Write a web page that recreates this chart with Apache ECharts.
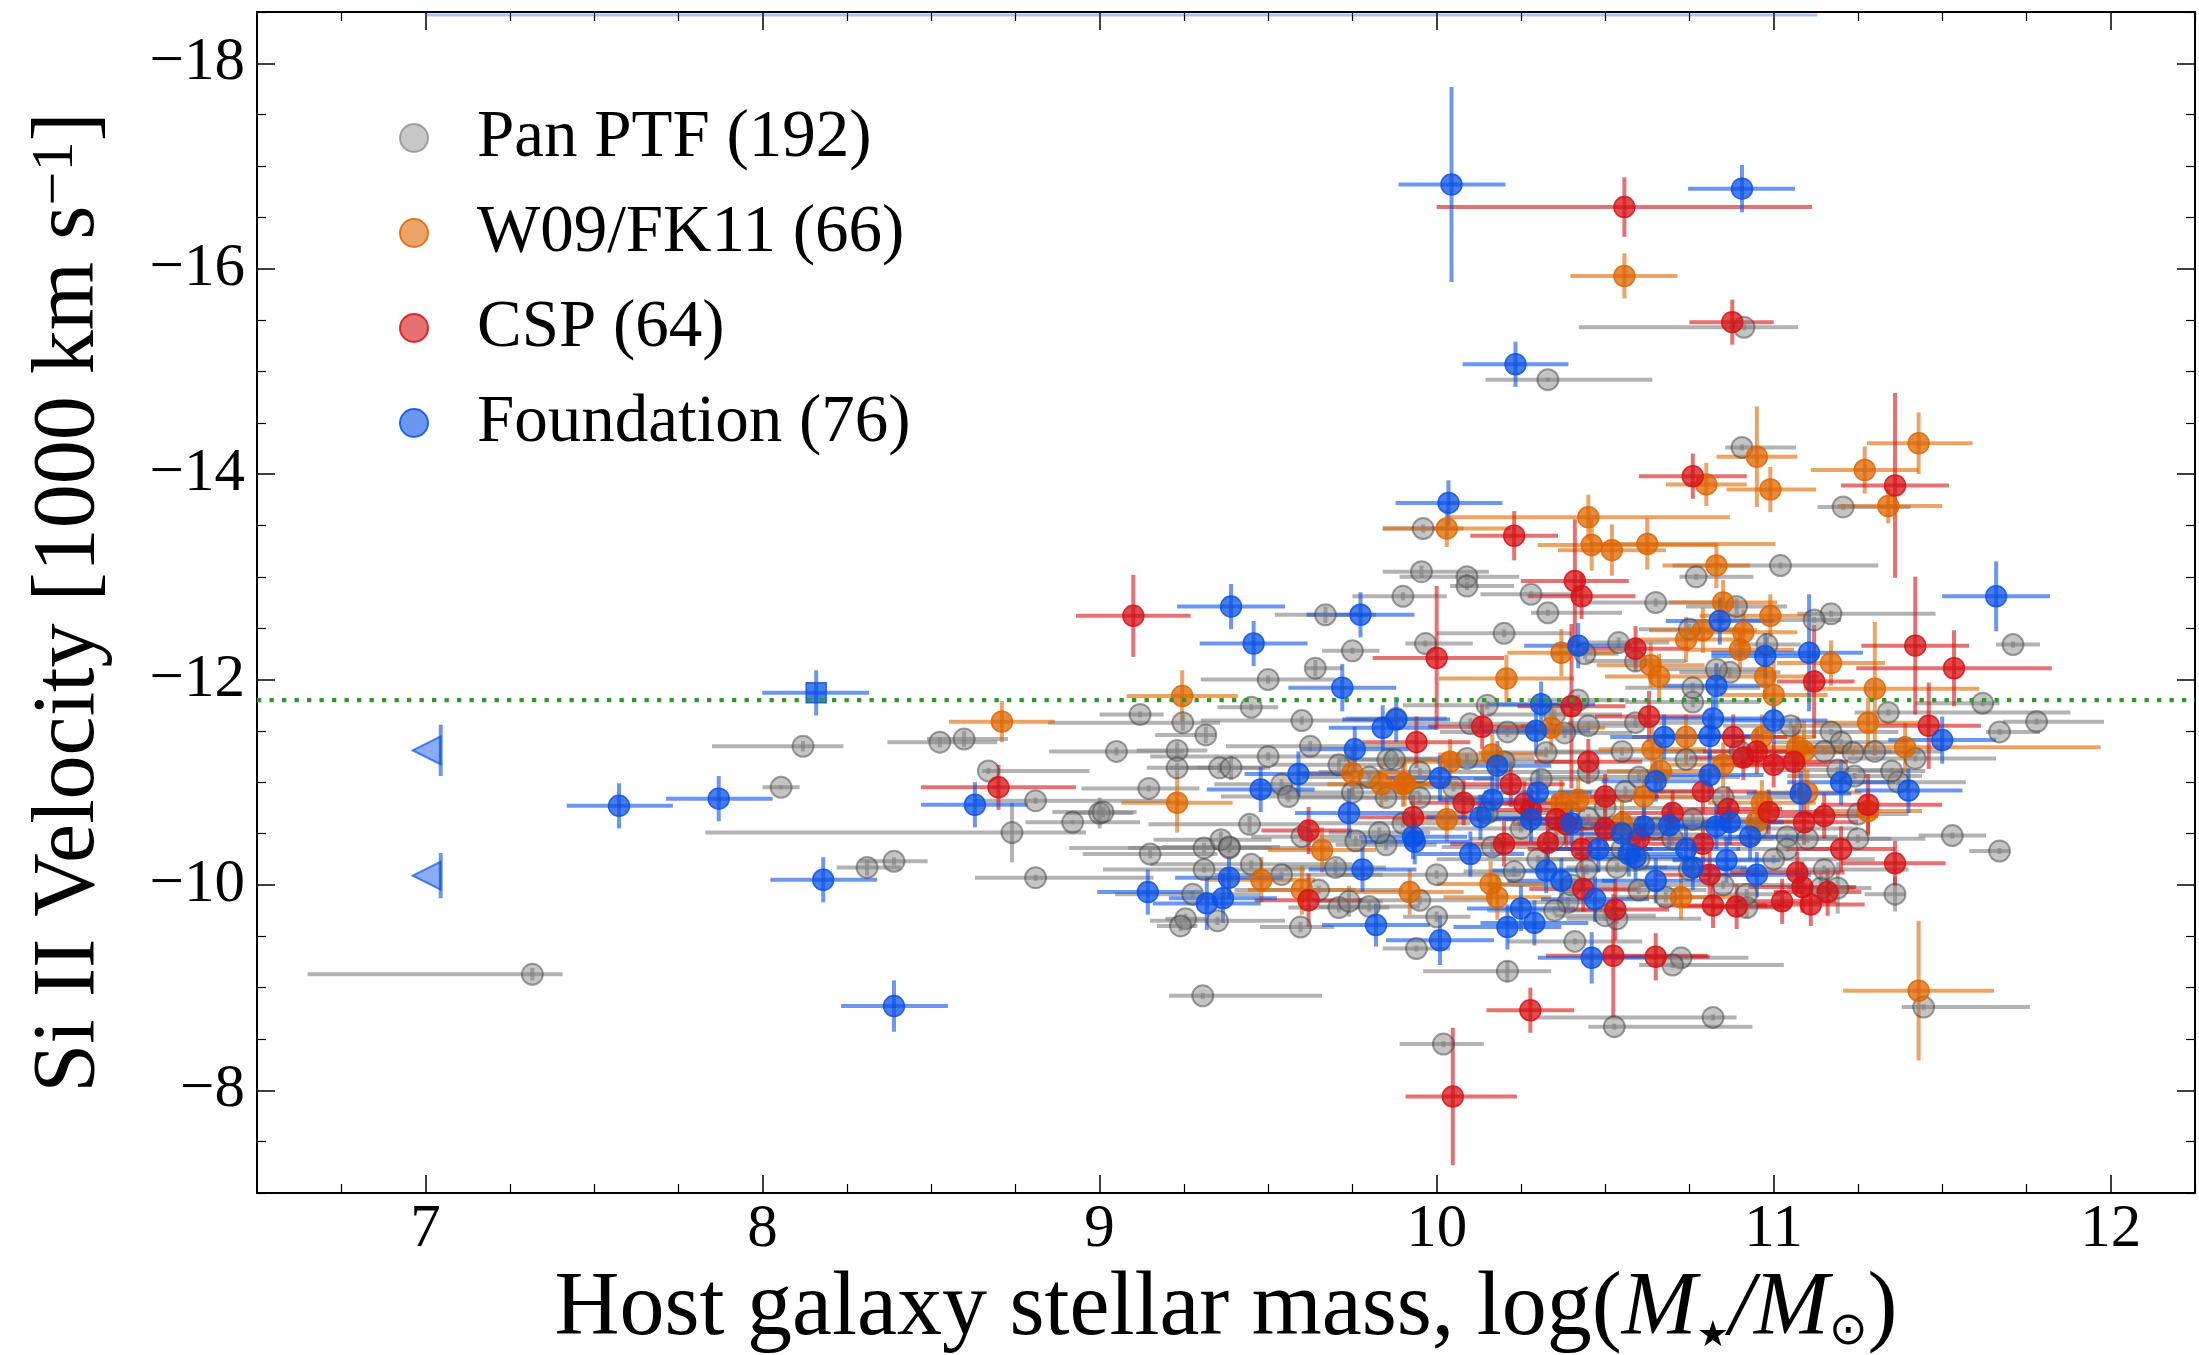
<!DOCTYPE html>
<html>
<head>
<meta charset="utf-8">
<script src="https://cdn.jsdelivr.net/npm/echarts@6/dist/echarts.min.js"></script>
<style>html,body{margin:0;padding:0;background:#fff;overflow:hidden}#c{width:2199px;height:1355px}</style>
</head>
<body>
<div id="c"></div>
<script>
// ---- data: [logMass, velocity(1000 km/s), xErrMinus, xErrPlus, yErr] ----
const panPTF = [
[8.12,-11.35,0.27,0.12,0.05],[8.526,-11.39,0.156,0.17,0.05],[8.598,-11.42,0.11,0.13,0.08],[8.67,-11.11,0.02,0.3,0.03],
[8.81,-10.82,0.18,0.4,0.03],[8.055,-10.95,0.055,0.055,0.02],[8.92,-10.61,0.14,0.2,0.02],[9.0,-10.70,0.1,0.1,0.15],
[8.74,-10.51,0.91,0.22,0.29],[8.31,-10.17,0.09,0.1,0.08],[8.39,-10.23,0.1,0.1,0.04],[8.81,-10.07,0.18,0.35,0.03],
[7.317,-9.13,0.667,0.09,0.06],
[10.33,-14.92,0.185,0.31,0.02],[10.912,-15.43,0.49,0.16,0.03],[10.906,-14.26,0.05,0.16,0.03],[9.96,-13.47,0.12,0.12,0.04],
[11.206,-13.68,0.076,0.2,0.03],[9.955,-13.05,0.115,0.2,0.06],[10.09,-13.0,0.2,0.155,0.03],[10.09,-12.91,0.05,0.14,0.04],
[9.90,-12.81,0.15,0.13,0.04],[10.28,-12.83,0.15,0.15,0.03],[10.77,-13.0,0.05,0.17,0.03],[11.02,-13.11,0.32,0.29,0.03],
[11.71,-12.34,0.05,0.08,0.03],[11.62,-11.77,0.2,0.05,0.03],[11.34,-11.68,0.1,0.54,0.03],[11.78,-11.59,0.1,0.2,0.03],
[11.67,-11.49,0.04,0.12,0.03],[11.42,-11.23,0.2,0.24,0.03],[11.37,-11.0,0.2,0.2,0.03],[11.35,-11.11,0.1,0.1,0.03],
[11.53,-10.48,0.1,0.1,0.03],[11.67,-10.33,0.09,0.03,0.03],[11.17,-12.64,0.1,0.31,0.03],[11.12,-12.58,0.3,0.08,0.03],
[10.89,-12.71,0.15,0.15,0.08],[10.98,-12.34,0.1,0.1,0.08],[10.87,-12.07,0.15,0.15,0.05],[10.83,-12.10,0.15,0.15,0.05],
[11.17,-11.49,0.2,0.2,0.03],[11.20,-11.39,0.2,0.2,0.03],[11.235,-11.29,0.2,0.2,0.03],[11.15,-11.30,0.2,0.2,0.03],
[11.19,-11.12,0.2,0.2,0.03],[11.24,-11.06,0.2,0.2,0.03],[11.25,-10.69,0.15,0.15,0.03],[11.04,-10.47,0.15,0.15,0.03],
[11.04,-10.35,0.15,0.15,0.03],
[11.14,-9.97,0.1,0.1,0.15],[11.19,-9.97,0.1,0.1,0.25],[11.36,-9.91,0.09,0.03,0.17],[10.92,-9.78,0.1,0.1,0.1],
[10.92,-9.91,0.1,0.1,0.05],[11.445,-8.81,0.065,0.315,0.03],[10.82,-8.71,0.52,0.07,0.03],[10.527,-8.62,0.077,0.41,0.03],
[10.02,-8.45,0.13,0.12,0.03],[10.725,-9.29,0.1,0.2,0.03],[10.70,-9.22,0.1,0.33,0.03],[10.41,-9.45,0.2,0.2,0.03],
[10.21,-9.16,0.25,0.13,0.1],[9.94,-9.38,0.1,0.1,0.03],[10.0,-9.69,0.1,0.1,0.05],[10.23,-10.13,0.15,0.15,0.05],
[10.445,-10.15,0.15,0.15,0.05],[10.39,-9.83,0.15,0.15,0.05],[10.535,-9.67,0.15,0.25,0.05],[10.50,-9.70,0.15,0.15,0.05],
[10.68,-9.88,0.15,0.15,0.05],[10.165,-10.37,0.15,0.15,0.05],[10.535,-10.17,0.15,0.15,0.05],
[9.306,-8.92,0.1,0.354,0.03],[9.276,-9.91,0.23,0.2,0.03],[9.255,-9.67,0.06,0.06,0.05],[9.24,-9.60,0.07,0.05,0.05],
[9.31,-10.15,0.3,0.3,0.03],[9.31,-10.36,0.4,0.2,0.05],[9.385,-10.36,0.3,0.3,0.05],[9.54,-10.10,0.2,0.3,0.03],
[9.596,-9.59,0.12,0.1,0.05],[9.71,-9.78,0.15,0.15,0.05],[9.74,-9.84,0.1,0.1,0.15],[9.80,-9.79,0.15,0.15,0.05],
[9.70,-10.17,0.15,0.15,0.08],[9.85,-10.39,0.15,0.15,0.05],[9.76,-10.43,0.15,0.15,0.05],
[9.67,-12.63,0.15,0.15,0.08],[9.75,-12.28,0.09,0.08,0.03],[9.64,-12.11,0.03,0.08,0.08],[9.45,-11.73,0.1,0.08,0.03],
[9.12,-11.66,0.12,0.07,0.03],[9.247,-11.58,0.4,0.11,0.08],[9.315,-11.46,0.15,0.03,0.08],[9.23,-11.31,0.12,0.09,0.08],
[9.23,-11.14,0.09,0.11,0.05],[9.356,-11.14,0.15,0.15,0.05],[9.39,-11.14,0.1,0.1,0.12],[9.146,-10.94,0.2,0.15,0.03],
[9.01,-10.71,0.15,0.1,0.05],[9.445,-10.59,0.3,0.15,0.08],[9.36,-10.44,0.2,0.15,0.08],[9.385,-10.37,0.2,0.15,0.05],
[9.625,-11.35,0.25,0.29,0.05],[9.54,-10.98,0.2,0.2,0.05],[9.56,-10.86,0.2,0.2,0.05],[9.71,-11.17,0.2,0.2,0.05],
[9.80,-11.05,0.2,0.2,0.05],[9.855,-11.22,0.15,0.15,0.05],[9.875,-11.22,0.15,0.15,0.05],[9.88,-11.62,0.15,0.15,0.05],
[9.60,-10.47,0.15,0.15,0.05],[9.83,-10.51,0.15,0.15,0.05],
[10.33,-12.65,0.05,0.22,0.03],[9.967,-12.35,0.06,0.14,0.03],[10.44,-12.25,0.1,0.1,0.05],[10.42,-11.80,0.15,0.15,0.05],
[10.35,-11.66,0.2,0.2,0.05],[10.38,-11.48,0.2,0.2,0.05],[10.325,-11.29,0.2,0.2,0.05],[10.10,-11.57,0.2,0.2,0.05],
[10.21,-11.49,0.2,0.2,0.05],[10.09,-11.23,0.2,0.2,0.05],[9.95,-10.85,0.2,0.2,0.05],[10.31,-11.03,0.2,0.2,0.05],
[10.56,-10.91,0.2,0.2,0.05],[10.74,-11.22,0.2,0.2,0.05],[10.59,-11.58,0.2,0.2,0.05],[10.76,-11.78,0.2,0.2,0.05],
[10.76,-11.92,0.2,0.2,0.05],[10.54,-12.36,0.15,0.15,0.05],[10.59,-12.18,0.15,0.15,0.05],[10.75,-12.49,0.15,0.15,0.05],
[10.76,-10.64,0.2,0.2,0.05],[10.58,-10.49,0.2,0.2,0.05],
[10.05,-10.95,0.3,0.2,0.04],[10.15,-10.7,0.25,0.25,0.04],[10.25,-10.55,0.3,0.2,0.04],[10.35,-10.45,0.25,0.25,0.04],
[10.45,-10.65,0.3,0.25,0.04],[10.55,-10.35,0.25,0.25,0.04],[10.65,-10.55,0.25,0.25,0.04],[10.5,-10.75,0.2,0.2,0.04],
[10.6,-10.25,0.3,0.2,0.04],[10.7,-10.45,0.2,0.3,0.04],[10.85,-10.85,0.25,0.25,0.04],[10.95,-10.55,0.3,0.3,0.04],
[11.0,-10.25,0.3,0.3,0.04],[11.1,-10.45,0.25,0.25,0.04],[11.15,-10.15,0.25,0.25,0.04],[10.3,-10.25,0.3,0.3,0.04],
[10.4,-10.0,0.25,0.25,0.04],[10.6,-9.95,0.2,0.2,0.04],[10.85,-10.0,0.25,0.25,0.04],[10.0,-10.1,0.3,0.25,0.04],
[9.9,-10.6,0.3,0.2,0.04],[9.85,-10.85,0.3,0.3,0.04],[9.95,-11.1,0.3,0.25,0.04],[10.2,-11.2,0.2,0.2,0.04],
[10.45,-11.1,0.25,0.25,0.04],[10.55,-11.3,0.25,0.25,0.04],[10.6,-11.05,0.3,0.3,0.04],[10.9,-11.3,0.25,0.2,0.04],
[11.05,-11.55,0.2,0.2,0.04],[10.45,-11.55,0.2,0.2,0.04],[10.15,-11.75,0.25,0.3,0.04],[9.6,-11.6,0.3,0.3,0.04],
[9.5,-11.25,0.35,0.25,0.04],[9.45,-10.2,0.3,0.3,0.04],[9.65,-9.95,0.25,0.25,0.04],[9.15,-10.3,0.2,0.2,0.04],
[9.05,-11.3,0.2,0.2,0.04],[9.5,-12.0,0.2,0.2,0.04],[10.65,-12.75,0.2,0.2,0.04],[10.2,-12.45,0.2,0.2,0.04],
[10.75,-10.15,0.25,0.2,0.04],[10.35,-9.75,0.2,0.2,0.04],[9.75,-10.9,0.25,0.2,0.04],[11.25,-10.45,0.2,0.2,0.04],
[11.3,-11.3,0.2,0.2,0.04],[9.35,-9.65,0.2,0.2,0.04],[9.95,-9.85,0.2,0.2,0.04]
];
const w09fk11 = [
[10.557,-15.93,0.16,0.157,0.22],[8.71,-11.59,0.157,0.157,0.2],[10.95,-14.17,0.12,0.12,0.49],[10.80,-13.90,0.12,0.12,0.21],
[10.99,-13.85,0.13,0.136,0.22],[11.27,-14.04,0.16,0.16,0.23],[11.43,-14.30,0.153,0.16,0.3],[11.34,-13.69,0.15,0.16,0.17],
[10.03,-13.47,0.19,0.19,0.18],[10.45,-13.58,0.41,0.42,0.22],[10.46,-13.31,0.16,0.37,0.25],[10.52,-13.26,0.16,0.16,0.25],
[10.625,-13.32,0.17,0.38,0.25],[10.83,-13.11,0.16,0.1,0.22],[10.99,-12.62,0.21,0.12,0.21],[10.79,-12.48,0.16,0.16,0.22],
[10.91,-12.46,0.16,0.16,0.22],[10.90,-12.29,0.16,0.16,0.22],[11.17,-12.16,0.16,0.16,0.22],[11.30,-11.91,0.21,0.31,0.65],
[10.975,-12.03,0.16,0.16,0.22],[11.0,-11.85,0.16,0.16,0.33],[11.28,-11.58,0.16,0.15,0.24],[11.39,-11.34,0.3,0.58,0.24],
[10.965,-11.44,0.16,0.16,0.22],[11.07,-11.34,0.16,0.16,0.3],[11.09,-11.30,0.16,0.16,0.3],[10.85,-11.17,0.16,0.16,0.22],
[11.28,-10.72,0.16,0.16,0.22],[10.965,-10.80,0.16,0.16,0.22],[10.95,-10.62,0.16,0.16,0.22],[11.43,-8.97,0.224,0.224,0.68],
[9.92,-9.93,0.16,0.16,0.22],[10.16,-10.01,0.16,0.16,0.22],[10.18,-9.88,0.16,0.16,0.22],[10.725,-9.88,0.16,0.16,0.22],
[9.48,-10.05,0.16,0.16,0.22],[9.60,-9.95,0.16,0.16,0.24],[9.66,-10.34,0.16,0.16,0.22],[9.245,-11.84,0.165,0.165,0.25],
[9.23,-10.80,0.165,0.165,0.29],[9.75,-11.09,0.16,0.16,0.22],[9.836,-10.98,0.16,0.16,0.22],[9.90,-10.98,0.16,0.16,0.22],
[10.207,-12.01,0.2,0.2,0.23],[10.37,-12.26,0.16,0.16,0.23],[10.34,-11.53,0.16,0.16,0.22],[10.04,-11.20,0.16,0.16,0.22],
[10.165,-11.27,0.16,0.16,0.22],[9.905,-10.99,0.16,0.16,0.22],[10.37,-10.80,0.16,0.16,0.22],[10.42,-10.83,0.16,0.16,0.22],
[10.615,-10.86,0.16,0.16,0.22],[10.665,-11.11,0.16,0.16,0.22],[10.64,-11.32,0.16,0.16,0.22],[10.74,-11.44,0.16,0.16,0.22],
[10.635,-12.14,0.16,0.16,0.22],[10.66,-12.03,0.16,0.16,0.22],[10.74,-12.39,0.16,0.16,0.22],[10.03,-10.64,0.16,0.16,0.22],
[10.55,-10.6,0.16,0.16,0.22],[11.1,-10.9,0.16,0.16,0.22],[10.85,-12.75,0.16,0.16,0.22]
];
const csp = [
[10.557,-16.6,0.557,0.557,0.29],[10.877,-15.48,0.127,0.123,0.22],[10.76,-13.98,0.16,0.16,0.22],[11.36,-13.89,0.16,0.16,0.9],
[10.23,-13.40,0.13,0.13,0.24],[10.41,-12.96,0.16,0.16,0.6],[10.43,-12.81,0.16,0.16,0.22],[11.42,-12.33,0.16,0.16,0.67],
[11.535,-12.11,0.29,0.29,0.37],[11.12,-11.98,0.11,0.12,0.55],[11.46,-11.55,0.15,0.155,0.42],[10.88,-11.44,0.16,0.16,0.22],
[10.95,-11.30,0.16,0.16,0.22],[10.91,-11.24,0.16,0.16,0.22],[11.0,-11.17,0.16,0.16,0.22],[11.06,-11.20,0.16,0.16,0.35],
[10.79,-10.91,0.16,0.16,0.22],[11.28,-10.78,0.14,0.22,0.3],[10.865,-10.74,0.16,0.16,0.22],[10.985,-10.71,0.16,0.16,0.22],
[11.09,-10.61,0.16,0.16,0.22],[11.15,-10.67,0.16,0.16,0.22],[10.79,-10.40,0.16,0.16,0.22],[11.36,-10.21,0.16,0.15,0.22],
[11.07,-10.12,0.2,0.14,0.2],[11.085,-9.98,0.16,0.16,0.25],[11.16,-9.93,0.16,0.1,0.23],[11.11,-9.81,0.16,0.16,0.21],
[11.025,-9.84,0.16,0.16,0.22],[10.89,-9.79,0.16,0.16,0.22],[10.82,-9.80,0.16,0.16,0.22],[10.81,-10.10,0.16,0.16,0.22],
[10.048,-7.94,0.14,0.19,0.67],[10.278,-8.78,0.13,0.13,0.22],[10.524,-9.31,0.2,0.28,0.6],[10.65,-9.30,0.16,0.16,0.23],
[10.435,-9.96,0.16,0.16,0.22],[10.53,-9.76,0.16,0.16,0.3],[10.43,-10.35,0.16,0.16,0.22],[10.33,-10.41,0.16,0.16,0.22],
[10.20,-10.40,0.16,0.16,0.22],[9.62,-9.85,0.16,0.16,0.26],[9.10,-12.62,0.17,0.17,0.4],[10.0,-12.21,0.19,0.2,0.7],
[9.94,-11.39,0.16,0.16,0.25],[9.93,-10.66,0.16,0.16,0.22],[9.62,-10.53,0.14,0.13,0.23],[8.70,-10.95,0.23,0.23,0.22],
[10.40,-11.74,0.16,0.16,0.8],[10.135,-11.54,0.16,0.16,0.22],[10.08,-10.80,0.16,0.16,0.22],[10.22,-10.98,0.16,0.16,0.22],
[10.50,-10.86,0.16,0.16,0.22],[10.63,-11.64,0.16,0.16,0.25],[10.59,-12.30,0.16,0.16,0.22],[10.26,-10.79,0.16,0.16,0.22],
[10.28,-10.73,0.16,0.16,0.22],[10.355,-10.64,0.16,0.16,0.22],[10.385,-10.59,0.16,0.16,0.22],[10.6,-10.45,0.16,0.16,0.22],
[10.7,-10.7,0.16,0.16,0.22],[10.5,-10.55,0.16,0.16,0.22],[11.2,-10.35,0.16,0.16,0.22],[10.45,-11.2,0.16,0.16,0.22]
];
const foundation = [
[10.044,-16.82,0.157,0.16,0.95],[10.906,-16.78,0.16,0.157,0.23],[10.234,-15.07,0.157,0.157,0.22],[10.035,-13.72,0.157,0.16,0.22],
[7.574,-10.77,0.155,0.16,0.22],[7.87,-10.84,0.156,0.16,0.22],[8.63,-10.78,0.16,0.157,0.22],[8.18,-10.05,0.157,0.16,0.22],
[8.39,-8.82,0.157,0.16,0.25],[11.66,-12.81,0.16,0.16,0.34],[11.50,-11.41,0.16,0.16,0.23],[11.40,-10.92,0.16,0.16,0.22],
[10.84,-12.57,0.16,0.16,0.23],[10.975,-12.23,0.16,0.16,0.22],[11.105,-12.26,0.29,0.16,0.57],[10.83,-11.94,0.16,0.16,0.22],
[10.82,-11.62,0.16,0.16,0.22],[10.81,-11.45,0.16,0.16,0.22],[10.81,-11.07,0.16,0.16,0.22],[11.08,-10.89,0.16,0.15,0.22],
[10.93,-10.47,0.16,0.16,0.22],[10.87,-10.61,0.16,0.16,0.22],[10.83,-10.57,0.16,0.16,0.22],[10.86,-10.24,0.16,0.16,0.22],
[10.46,-9.29,0.16,0.16,0.25],[10.01,-9.46,0.16,0.16,0.24],[10.21,-9.59,0.16,0.16,0.22],[10.29,-9.63,0.16,0.16,0.22],
[10.25,-9.77,0.16,0.16,0.22],[10.325,-10.14,0.16,0.16,0.22],[10.37,-10.04,0.16,0.16,0.22],[10.47,-9.86,0.16,0.16,0.22],
[10.65,-10.04,0.16,0.16,0.22],[10.76,-10.17,0.16,0.16,0.22],[10.74,-10.35,0.16,0.16,0.22],[10.48,-10.35,0.16,0.16,0.22],
[9.935,-10.42,0.16,0.16,0.22],[10.57,-10.30,0.16,0.16,0.22],[10.59,-10.27,0.16,0.16,0.22],[9.143,-9.93,0.15,0.16,0.22],
[9.318,-9.82,0.16,0.16,0.26],[9.366,-9.87,0.16,0.16,0.24],[9.384,-10.07,0.16,0.16,0.2],[9.82,-9.61,0.16,0.16,0.21],
[9.78,-10.15,0.16,0.16,0.22],[9.39,-12.71,0.16,0.16,0.22],[9.457,-12.35,0.16,0.16,0.22],[9.774,-12.63,0.16,0.16,0.22],
[9.72,-11.92,0.16,0.16,0.23],[9.757,-11.32,0.16,0.16,0.22],[9.84,-11.53,0.16,0.16,0.22],[9.88,-11.61,0.16,0.16,0.22],
[9.59,-11.08,0.16,0.16,0.22],[9.478,-10.93,0.16,0.16,0.22],[9.74,-10.70,0.16,0.16,0.24],[9.93,-10.47,0.16,0.16,0.22],
[10.42,-12.33,0.16,0.16,0.22],[10.31,-11.76,0.16,0.16,0.22],[10.295,-11.50,0.16,0.16,0.22],[10.18,-11.16,0.16,0.16,0.24],
[10.01,-11.04,0.16,0.16,0.22],[10.165,-10.83,0.16,0.16,0.22],[10.65,-11.01,0.16,0.16,0.2],[10.675,-11.44,0.16,0.16,0.22],
[10.13,-10.66,0.16,0.16,0.22],[10.28,-10.64,0.16,0.16,0.22],[10.615,-10.57,0.16,0.16,0.22],[10.69,-10.58,0.16,0.16,0.22],
[10.55,-10.5,0.16,0.16,0.22],[10.4,-10.6,0.16,0.16,0.22],[10.95,-10.1,0.16,0.16,0.22],[11.0,-11.6,0.16,0.16,0.22],
[10.3,-10.9,0.16,0.16,0.22],[11.2,-11.0,0.16,0.16,0.22],[10.1,-10.3,0.16,0.16,0.22]
];
// Foundation special symbols
const foundationSquare = [[8.159,-11.87,0.16,0.157,0.22]];
const foundationUpperLimits = [[7.045,-11.31,0,0,0.25],[7.045,-10.09,0,0,0.22]];
// faint line along the top edge of the panel
const topEdgeLine = [[7.0, -18.47], [11.13, -18.47]];
const thresholdVelocity = -11.8;
const xRange = [6.5, 12.25];
const yRange = [-18.5, -7];
const xMajorTicks = [7, 8, 9, 10, 11, 12];
const xMinorTicks = [6.75,7.25,7.5,7.75,8.25,8.5,8.75,9.25,9.5,9.75,10.25,10.5,10.75,11.25,11.5,11.75,12.25];
const yMajorTicks = [-18, -16, -14, -12, -10, -8];
const yMinorTicks = [-18.5,-17.5,-17,-16.5,-15.5,-15,-14.5,-13.5,-13,-12.5,-11.5,-11,-10.5,-9.5,-9,-8.5,-7.5,-7];
const seriesNames = ['Pan PTF (192)', 'W09/FK11 (66)', 'CSP (64)', 'Foundation (76)'];

const FONT = 'Liberation Serif';
const COLORS = {
  gray: [128,128,128], orange: [222,102,0], red: [214,18,22], blue: [10,82,230]
};
function rgba(c, a) { return 'rgba(' + c[0] + ',' + c[1] + ',' + c[2] + ',' + a + ')'; }

function barRender(col) {
  const st = { stroke: rgba(col, 0.6), lineWidth: 4, fill: null };
  return function (params, api) {
    const x = api.value(0), y = api.value(1);
    const xm = api.value(2), xp = api.value(3), ye = api.value(4);
    const ch = [];
    if (xm > 0 || xp > 0) {
      const a = api.coord([x - xm, y]), b = api.coord([x + xp, y]);
      ch.push({ type: 'line', shape: { x1: a[0], y1: a[1], x2: b[0], y2: b[1] }, style: st });
    }
    if (ye > 0) {
      const a = api.coord([x, y - ye]), b = api.coord([x, y + ye]);
      ch.push({ type: 'line', shape: { x1: a[0], y1: a[1], x2: b[0], y2: b[1] }, style: st });
    }
    return { type: 'group', children: ch };
  };
}
function barSeries(name, arr, col) {
  return { type: 'custom', name: name, data: arr, renderItem: barRender(col), clip: true,
    encode: { x: 0, y: 1 }, silent: true, animation: false };
}
function markerSeries(name, arr, col, extra) {
  return Object.assign({ type: 'scatter', name: name, data: arr.map(d => [d[0], d[1]]),
    symbol: 'circle', symbolSize: 21, clip: true, animation: false, silent: true,
    itemStyle: { color: rgba(col, 0.75), borderColor: rgba(col, 0.85), borderWidth: 1.5, opacity: 1 } }, extra || {});
}

const axisTextStyle = { fontFamily: FONT, fontSize: 61, color: '#000' };
function minus(v) { return v < 0 ? '\u2212' + Math.abs(v) : String(v); }

const chart = echarts.init(document.getElementById('c'), null, { renderer: 'canvas' });
const option = {
  backgroundColor: '#fff',
  animation: false,
  grid: { left: 257, right: 4, top: 12, bottom: 162, containLabel: false, outerBoundsMode: 'none' },
  legend: {
    orient: 'vertical', left: 394, top: 98, itemWidth: 28, itemHeight: 28, itemGap: 25,
    selectedMode: false, icon: 'circle',
    textStyle: { fontFamily: FONT, fontSize: 67, color: '#000', lineHeight: 70, padding: [0, 0, 0, 44] },
    data: [
      { name: seriesNames[0], itemStyle: { color: rgba(COLORS.gray, 0.55), borderColor: rgba(COLORS.gray, 0.85), borderWidth: 2 } },
      { name: seriesNames[1], itemStyle: { color: rgba(COLORS.orange, 0.6), borderColor: rgba(COLORS.orange, 0.85), borderWidth: 2 } },
      { name: seriesNames[2], itemStyle: { color: rgba(COLORS.red, 0.6), borderColor: rgba(COLORS.red, 0.85), borderWidth: 2 } },
      { name: seriesNames[3], itemStyle: { color: rgba(COLORS.blue, 0.6), borderColor: rgba(COLORS.blue, 0.85), borderWidth: 2 } }
    ]
  },
  xAxis: [
    { type: 'value', min: xRange[0], max: xRange[1], position: 'bottom',
      axisLine: { show: true, onZero: false, lineStyle: { color: '#000', width: 2 } },
      axisTick: { show: true, inside: true, length: 18, customValues: xMajorTicks, lineStyle: { color: '#000', width: 1.5 } },
      axisLabel: { show: true, customValues: xMajorTicks, margin: 6, ...axisTextStyle },
      splitLine: { show: false },
      name: 'Host galaxy stellar mass, log({i|M}{s|\u2605}{i|/M}{o|\u2299})',
      nameLocation: 'middle', nameGap: 60,
      nameTextStyle: { fontFamily: FONT, fontSize: 90, color: '#000',
        rich: { i: { fontFamily: FONT, fontSize: 90, fontStyle: 'italic', color: '#000' },
                s: { fontFamily: 'DejaVu Sans', fontSize: 36, color: '#000', verticalAlign: 'bottom' },
                o: { fontFamily: 'DejaVu Sans', fontSize: 46, color: '#000', verticalAlign: 'bottom' } } } },
    { type: 'value', min: xRange[0], max: xRange[1], position: 'bottom',
      axisLine: { show: false, onZero: false }, axisLabel: { show: false }, splitLine: { show: false },
      axisTick: { show: true, inside: true, length: 9, customValues: xMinorTicks, lineStyle: { color: '#000', width: 1.2 } } },
    { type: 'value', min: xRange[0], max: xRange[1], position: 'top',
      axisLine: { show: true, onZero: false, lineStyle: { color: '#000', width: 2 } }, axisLabel: { show: false }, splitLine: { show: false },
      axisTick: { show: true, inside: true, length: 18, customValues: xMajorTicks, lineStyle: { color: '#000', width: 1.5 } } },
    { type: 'value', min: xRange[0], max: xRange[1], position: 'top',
      axisLine: { show: false, onZero: false }, axisLabel: { show: false }, splitLine: { show: false },
      axisTick: { show: true, inside: true, length: 9, customValues: xMinorTicks, lineStyle: { color: '#000', width: 1.2 } } }
  ],
  yAxis: [
    { type: 'value', min: yRange[0], max: yRange[1], inverse: true, position: 'left',
      axisLine: { show: true, onZero: false, lineStyle: { color: '#000', width: 2 } },
      axisTick: { show: true, inside: true, length: 18, customValues: yMajorTicks, lineStyle: { color: '#000', width: 1.5 } },
      axisLabel: { show: true, customValues: yMajorTicks, margin: 12, formatter: minus, padding: [8, 0, 0, 0], ...axisTextStyle },
      splitLine: { show: false },
      name: '{a|Si II Velocity [1000 km s}{b|\u22121}{a|]}',
      nameLocation: 'middle', nameGap: 143, nameRotate: 90,
      nameTextStyle: { fontFamily: FONT, fontSize: 88, color: '#000',
        rich: { a: { fontFamily: FONT, fontSize: 88, color: '#000' },
                b: { fontFamily: FONT, fontSize: 60, color: '#000', verticalAlign: 'top' } } } },
    { type: 'value', min: yRange[0], max: yRange[1], inverse: true, position: 'left',
      axisLine: { show: false, onZero: false }, axisLabel: { show: false }, splitLine: { show: false },
      axisTick: { show: true, inside: true, length: 9, customValues: yMinorTicks, lineStyle: { color: '#000', width: 1.2 } } },
    { type: 'value', min: yRange[0], max: yRange[1], inverse: true, position: 'right',
      axisLine: { show: true, onZero: false, lineStyle: { color: '#000', width: 2 } }, axisLabel: { show: false }, splitLine: { show: false },
      axisTick: { show: true, inside: true, length: 18, customValues: yMajorTicks, lineStyle: { color: '#000', width: 1.5 } } },
    { type: 'value', min: yRange[0], max: yRange[1], inverse: true, position: 'right',
      axisLine: { show: false, onZero: false }, axisLabel: { show: false }, splitLine: { show: false },
      axisTick: { show: true, inside: true, length: 9, customValues: yMinorTicks, lineStyle: { color: '#000', width: 1.2 } } }
  ],
  series: [
    { type: 'line', name: 'threshold', data: [[xRange[0], thresholdVelocity], [xRange[1], thresholdVelocity]],
      symbol: 'none', silent: true, animation: false,
      lineStyle: { color: '#2e9a2e', width: 4.3, type: [4.3, 8.2], cap: 'butt' } },
    { type: 'line', name: '_topEdge', data: topEdgeLine, symbol: 'none', silent: true, animation: false,
      lineStyle: { color: 'rgba(10,82,230,0.35)', width: 3 } },
    barSeries('_ptfBars', panPTF, COLORS.gray),
    markerSeries(seriesNames[0], panPTF, COLORS.gray, {
      itemStyle: { color: rgba(COLORS.gray, 0.58), borderColor: rgba([60,60,60], 0.6), borderWidth: 2 } }),
    barSeries('_w09Bars', w09fk11, COLORS.orange),
    markerSeries(seriesNames[1], w09fk11, COLORS.orange),
    barSeries('_cspBars', csp, COLORS.red),
    markerSeries(seriesNames[2], csp, COLORS.red),
    barSeries('_fndBars', foundation.concat(foundationSquare, foundationUpperLimits), COLORS.blue),
    markerSeries(seriesNames[3], foundation, COLORS.blue),
    markerSeries('_fndSquare', foundationSquare, COLORS.blue, { symbol: 'rect', symbolSize: 20 }),
    markerSeries('_fndLimits', foundationUpperLimits, COLORS.blue, {
      symbol: 'triangle', symbolSize: [28, 28], symbolRotate: 90, symbolOffset: [-14, 0],
      itemStyle: { color: rgba(COLORS.blue, 0.6), borderColor: rgba(COLORS.blue, 0.85), borderWidth: 2 } })
  ]
};
chart.setOption(option);
</script>
</body>
</html>
